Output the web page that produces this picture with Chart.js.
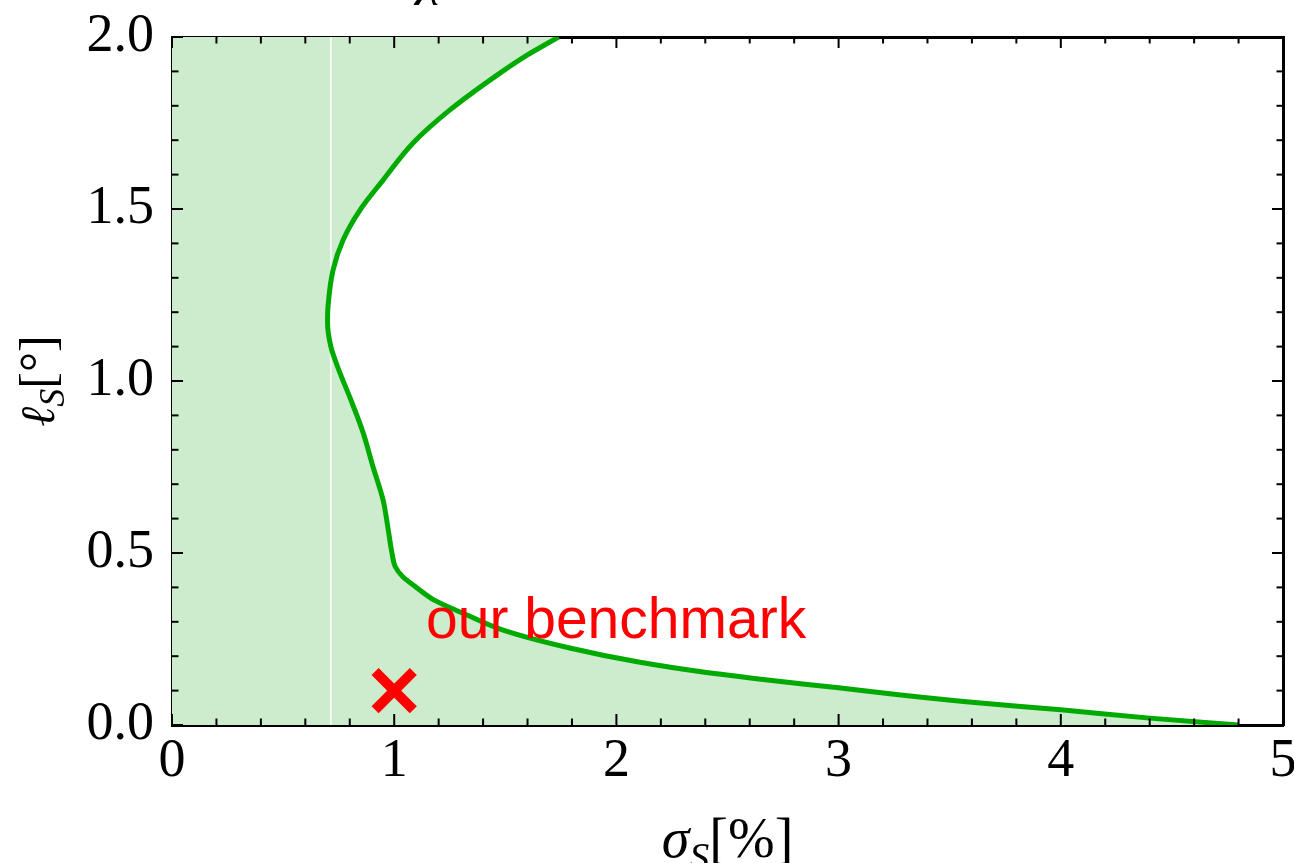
<!DOCTYPE html>
<html>
<head>
<meta charset="utf-8">
<script src="https://cdn.jsdelivr.net/npm/chart.js@4/dist/chart.umd.min.js"></script>
<style>
  html, body { margin: 0; padding: 0; background: #fff; }
  canvas { display: block; }
</style>
</head>
<body>
<canvas id="grafico" width="1294" height="863"></canvas>
<script>
// ===============================
// DATA
// ===============================

// boundary curve, from the top (l = 2) down to the axis
const curveSigma = [1.74, 1.60, 1.476, 1.251, 1.085, 0.95, 0.846, 0.77, 0.725, 0.702, 0.70, 0.715, 0.746,
                    0.805, 0.86, 0.905, 0.95, 0.975, 0.99, 1.005, 1.04, 1.10, 1.18, 1.31, 1.49,
                    1.79, 2.10, 2.39, 2.68, 3.00, 3.28, 3.60, 4.00, 4.40, 4.80];
const curveEll   = [2.00, 1.948, 1.895, 1.788, 1.692, 1.584, 1.497, 1.41, 1.323, 1.215, 1.17, 1.10, 1.04,
                    0.945, 0.85, 0.75, 0.654, 0.56, 0.50, 0.46, 0.43, 0.40, 0.363, 0.325, 0.276,
                    0.224, 0.183, 0.154, 0.131, 0.108, 0.087, 0.066, 0.044, 0.02, 0.0];

// thin white vertical line inside the shaded region
const limitSigma = [0.715, 0.715];
const limitEll   = [0, 2];

// benchmark point
const benchSigma = [1.0];
const benchEll   = [0.1];
const benchText  = "our benchmark";

// axes
const xTicks = [0, 1, 2, 3, 4, 5];
const yTicks = [0, 0.5, 1.0, 1.5, 2.0];
const yLabels = ["0.0", "0.5", "1.0", "1.5", "2.0"];

// ===============================
// STYLE
// ===============================

const SERIF = "'Liberation Serif', 'Times New Roman', serif";
const SANS = "'Liberation Sans', Arial, sans-serif";
const GREEN = "#00aa00";
const FILL = "#cdebcd";

const toPoints = (xs, ys) => xs.map((x, i) => ({ x: x, y: ys[i] }));

// ticks pointing inside, on all four sides
const innerTicks = {
    id: "innerTicks",
    afterDatasetsDraw(chart) {
        const { ctx, chartArea: a, scales } = chart;
        ctx.save();
        ctx.strokeStyle = "#000";
        ctx.lineWidth = 2;
        const line = (x1, y1, x2, y2) => {
            ctx.beginPath();
            ctx.moveTo(x1, y1);
            ctx.lineTo(x2, y2);
            ctx.stroke();
        };
        const marks = (scale, draw) => {
            const vals = scale.ticks.map(t => t.value);
            for (let i = 0; i < vals.length; i++) {
                draw(scale.getPixelForValue(vals[i]), 11);
                if (i < vals.length - 1) {
                    const step = (vals[i + 1] - vals[i]) / 5;
                    for (let k = 1; k < 5; k++) {
                        draw(scale.getPixelForValue(vals[i] + k * step), 6.5);
                    }
                }
            }
        };
        marks(scales.x, (p, len) => line(p, a.bottom, p, a.bottom - len));
        marks(scales.x2, (p, len) => line(p, a.top, p, a.top + len));
        marks(scales.y, (p, len) => line(a.left, p, a.left + len, p));
        marks(scales.y2, (p, len) => line(a.right, p, a.right - len, p));
        ctx.restore();
    }
};

// draws pieces of text with different fonts one after another
function drawRich(ctx, parts, cx, baseline) {
    let total = 0;
    parts.forEach(p => { ctx.font = p.font; p.w = ctx.measureText(p.t).width; total += p.w; });
    let x = cx - total / 2;
    ctx.textAlign = "left";
    ctx.textBaseline = "alphabetic";
    parts.forEach(p => {
        ctx.font = p.font;
        ctx.fillText(p.t, x, baseline + (p.dy || 0));
        x += p.w;
    });
}

const texts = {
    id: "texts",
    afterDraw(chart) {
        const { ctx, chartArea: a, scales } = chart;
        ctx.save();
        ctx.fillStyle = "#000";

        // x title
        drawRich(ctx, [
            { t: "\u03c3", font: "italic 56px " + SERIF },
            { t: "S", font: "italic 40px " + SERIF, dy: 13 },
            { t: "[%]", font: "56px " + SERIF }
        ], (a.left + a.right) / 2, 857);

        // y title
        ctx.save();
        ctx.translate(54, (a.top + a.bottom) / 2);
        ctx.rotate(-Math.PI / 2);
        drawRich(ctx, [
            { t: "\u2113", font: "italic 48px " + SERIF },
            { t: "S", font: "italic 36px " + SERIF, dy: 10 },
            { t: "[\u00b0]", font: "50px " + SERIF }
        ], 0, 0);
        ctx.restore();

        // title, cut by the top edge of the figure
        ctx.font = "italic 54px " + SERIF;
        ctx.textAlign = "center";
        ctx.textBaseline = "alphabetic";
        ctx.fillText("\u03c7", 430, -7);

        // benchmark label
        ctx.fillStyle = "#ff0000";
        ctx.font = "57px " + SANS;
        ctx.textAlign = "left";
        ctx.fillText(benchText, scales.x.getPixelForValue(1.143), scales.y.getPixelForValue(0.253));
        ctx.restore();
    }
};

// ===============================
// CHART
// ===============================

new Chart(document.getElementById("grafico"), {
    type: "line",
    data: {
        datasets: [
            {
                label: "benchmark",
                data: toPoints(benchSigma, benchEll),
                showLine: false,
                pointStyle: "crossRot",
                pointRadius: 27,
                pointBorderWidth: 10,
                pointBorderColor: "#ff0000",
                pointBackgroundColor: "#ff0000",
                order: 0
            },
            {
                label: "boundary",
                data: toPoints(curveSigma, curveEll),
                borderColor: GREEN,
                borderWidth: 5,
                backgroundColor: FILL,
                fill: "origin",
                cubicInterpolationMode: "monotone",
                pointRadius: 0,
                order: 1
            },
            {
                label: "limit",
                data: toPoints(limitSigma, limitEll),
                borderColor: "#ffffff",
                borderWidth: 1.5,
                fill: false,
                pointRadius: 0,
                order: 2
            }
        ]
    },
    options: {
        indexAxis: "y",
        responsive: false,
        animation: false,
        devicePixelRatio: 1,
        layout: { autoPadding: false, padding: { top: 37, right: 11, left: 0, bottom: 0 } },
        plugins: {
            legend: { display: false },
            tooltip: { enabled: false },
            filler: { drawTime: "beforeDatasetsDraw" }
        },
        scales: {
            x: {
                type: "linear",
                position: "bottom",
                min: xTicks[0],
                max: xTicks[xTicks.length - 1],
                grid: { display: false },
                border: { display: true, color: "#000", width: 3 },
                ticks: {
                    stepSize: 1,
                    color: "#000",
                    padding: -4,
                    maxRotation: 0,
                    font: { family: SERIF, size: 54 },
                    callback: v => xTicks.includes(v) ? String(v) : ""
                },
                afterFit(s) { s.height = 138; s.paddingLeft = 0; s.paddingRight = 0; }
            },
            x2: {
                type: "linear",
                position: "top",
                min: xTicks[0],
                max: xTicks[xTicks.length - 1],
                grid: { display: false },
                border: { display: true, color: "#000", width: 3 },
                ticks: { stepSize: 1, display: false },
                afterFit(s) { s.height = 0; s.paddingLeft = 0; s.paddingRight = 0; }
            },
            y: {
                type: "linear",
                position: "left",
                min: yTicks[0],
                max: yTicks[yTicks.length - 1],
                grid: { display: false },
                border: { display: true, color: "#000", width: 3 },
                ticks: {
                    stepSize: 0.5,
                    color: "#000",
                    padding: 10,
                    font: { family: SERIF, size: 54 },
                    callback: v => {
                        const i = yTicks.findIndex(t => Math.abs(t - v) < 1e-9);
                        return i >= 0 ? yLabels[i] : "";
                    }
                },
                afterFit(s) { s.width = 172; s.paddingTop = 0; s.paddingBottom = 0; }
            },
            y2: {
                type: "linear",
                position: "right",
                min: yTicks[0],
                max: yTicks[yTicks.length - 1],
                grid: { display: false },
                border: { display: true, color: "#000", width: 3 },
                ticks: { stepSize: 0.5, display: false },
                afterFit(s) { s.width = 0; s.paddingTop = 0; s.paddingBottom = 0; }
            }
        }
    },
    plugins: [innerTicks, texts]
});
</script>
</body>
</html>
